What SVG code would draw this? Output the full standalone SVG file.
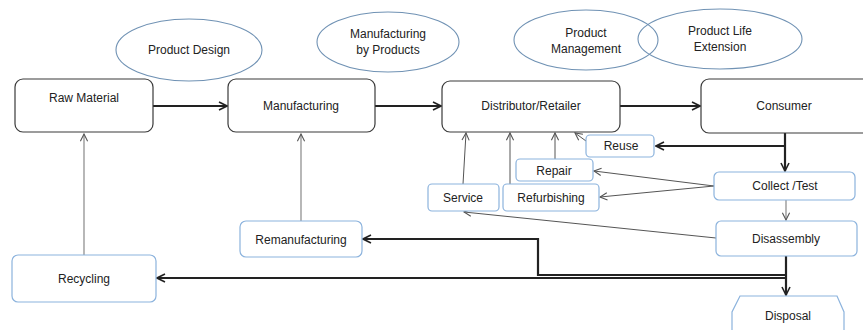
<svg xmlns="http://www.w3.org/2000/svg" width="863" height="330" viewBox="0 0 863 330">
  <defs>
    <style>
      text { font-family: "Liberation Sans", Arial, sans-serif; font-size: 12px; fill: #222; text-anchor: middle; }
      .main { fill: #fff; stroke: #3a3a3a; stroke-width: 1.2; }
      .sub { fill: #fff; stroke: #8cb3dd; stroke-width: 1.2; }
      .oval { fill: none; stroke: #7092b4; stroke-width: 1.1; }
      .thick { fill: none; stroke: #222; stroke-width: 2.2; }
      .thin { fill: none; stroke: #555; stroke-width: 1; }
      .grey { fill: none; stroke: #888; stroke-width: 1.2; }
    </style>
    <marker id="ah" viewBox="0 0 10 10" refX="9" refY="5" markerWidth="10" markerHeight="10" markerUnits="userSpaceOnUse" orient="auto">
      <path d="M1,1 L9,5 L1,9" fill="none" stroke="#222" stroke-width="1.6"/>
    </marker>
    <marker id="ahs" viewBox="0 0 10 10" refX="9" refY="5" markerWidth="9" markerHeight="9" markerUnits="userSpaceOnUse" orient="auto">
      <path d="M1,1 L9,5 L1,9" fill="none" stroke="#555" stroke-width="1.2"/>
    </marker>
  </defs>
  <rect width="863" height="330" fill="#fff"/>

  <!-- concept ovals -->
  <g id="product-design"><ellipse class="oval" cx="189" cy="50" rx="73" ry="31"/><text x="189" y="54">Product Design</text></g>
  <g id="manufacturing-by-products"><ellipse class="oval" cx="388" cy="42" rx="71" ry="30"/><text x="388" y="38">Manufacturing</text><text x="388" y="54">by Products</text></g>
  <g id="product-management"><ellipse class="oval" cx="586" cy="40" rx="72" ry="30"/><text x="586" y="37">Product</text><text x="586" y="53">Management</text></g>
  <g id="product-life-extension"><ellipse class="oval" cx="720" cy="39" rx="82" ry="30"/><text x="720" y="35">Product Life</text><text x="720" y="51">Extension</text></g>

  <!-- connectors -->
  <g id="connectors">
    <line class="thick" x1="153" y1="106" x2="227" y2="106" marker-end="url(#ah)"/>
    <line class="thick" x1="375" y1="106" x2="441" y2="106" marker-end="url(#ah)"/>
    <line class="thick" x1="620" y1="106" x2="700" y2="106" marker-end="url(#ah)"/>
    <line class="thick" x1="785" y1="133" x2="785" y2="171" marker-end="url(#ah)"/>
    <polyline class="thick" points="785,146 656,146" marker-end="url(#ah)"/>
    <line class="grey" x1="786" y1="200" x2="786" y2="220" marker-end="url(#ahs)"/>
    <line class="thin" x1="714" y1="186" x2="594" y2="171" marker-end="url(#ahs)"/>
    <line class="thin" x1="714" y1="186" x2="600" y2="197" marker-end="url(#ahs)"/>
    <line class="thin" x1="716" y1="238" x2="464" y2="212" marker-end="url(#ahs)"/>
    <line class="thin" x1="586" y1="141" x2="575" y2="133" marker-end="url(#ahs)"/>
    <line class="thin" x1="555" y1="159" x2="555" y2="133" marker-end="url(#ahs)"/>
    <line class="thin" x1="510" y1="184" x2="510" y2="133" marker-end="url(#ahs)"/>
    <line class="thin" x1="463" y1="184" x2="466" y2="133" marker-end="url(#ahs)"/>
    <line class="thick" x1="786" y1="256" x2="786" y2="295" marker-end="url(#ah)"/>
    <polyline class="thick" points="786,275 538,275 538,239 363,239" marker-end="url(#ah)"/>
    <polyline class="thick" points="786,278 157,278" marker-end="url(#ah)"/>
    <line class="grey" x1="301" y1="221" x2="301" y2="134" marker-end="url(#ahs)"/>
    <line class="grey" x1="84" y1="255" x2="84" y2="134" marker-end="url(#ahs)"/>
  </g>

  <!-- main chain -->
  <g id="raw-material"><rect class="main" x="15" y="79" width="138" height="53" rx="8"/><text x="84" y="102">Raw Material</text></g>
  <g id="manufacturing"><rect class="main" x="228" y="79" width="147" height="53" rx="8"/><text x="301" y="110">Manufacturing</text></g>
  <g id="distributor-retailer"><rect class="main" x="442" y="81" width="178" height="51" rx="8"/><text x="531" y="110">Distributor/Retailer</text></g>
  <g id="consumer"><rect class="main" x="701" y="79" width="180" height="54" rx="8"/><text x="784" y="110">Consumer</text></g>

  <!-- recovery options -->
  <g id="reuse"><rect class="sub" x="586" y="135" width="68" height="22" rx="4"/><text x="621" y="150">Reuse</text></g>
  <g id="repair"><rect class="sub" x="516" y="159" width="77" height="22" rx="4"/><text x="554" y="175">Repair</text></g>
  <g id="service"><rect class="sub" x="428" y="184" width="71" height="27" rx="4"/><text x="463" y="202">Service</text></g>
  <g id="refurbishing"><rect class="sub" x="503" y="184" width="96" height="27" rx="4"/><text x="551" y="202">Refurbishing</text></g>
  <g id="collect-test"><rect class="sub" x="714" y="172" width="141" height="28" rx="5"/><text x="785" y="190">Collect /Test</text></g>
  <g id="disassembly"><rect class="sub" x="716" y="221" width="141" height="35" rx="5"/><text x="786" y="243">Disassembly</text></g>
  <g id="remanufacturing"><rect class="sub" x="240" y="221" width="122" height="36" rx="6"/><text x="301" y="244">Remanufacturing</text></g>
  <g id="recycling"><rect class="sub" x="12" y="255" width="144" height="47" rx="6"/><text x="84" y="283">Recycling</text></g>
  <g id="disposal"><path class="sub" d="M732,332 L732,312 L740,296 L837,296 L844,312 L844,332"/><text x="788" y="320">Disposal</text></g>
</svg>
